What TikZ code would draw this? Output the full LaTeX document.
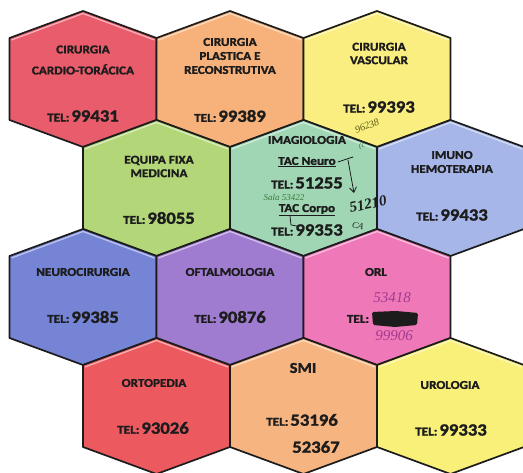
\documentclass[tikz,border=0pt]{standalone}
\usepackage{fontspec}
\setmainfont{Carlito}[FakeStretch=1.1, BoldFeatures={FakeBold=1.6}]
\newfontfamily\hand{Liberation Serif}
\usetikzlibrary{arrows.meta}
\definecolor{cCardio}{HTML}{E85C6B}
\definecolor{cPlast}{HTML}{F6B27A}
\definecolor{cVasc}{HTML}{FAEE80}
\definecolor{cEquipa}{HTML}{B2D678}
\definecolor{cImag}{HTML}{A0D6B4}
\definecolor{cImuno}{HTML}{A6B6E8}
\definecolor{cNeuro}{HTML}{7684D6}
\definecolor{cOftal}{HTML}{A07CD0}
\definecolor{cORL}{HTML}{EE78B8}
\definecolor{cOrto}{HTML}{EC5A60}
\definecolor{cSMI}{HTML}{F6B480}
\definecolor{cUro}{HTML}{F8F078}
\definecolor{inkA}{HTML}{1C1C1C}
\definecolor{inkPurple}{HTML}{A33A8E}
\definecolor{inkGreen}{HTML}{3C7A3A}
\definecolor{inkOlive}{HTML}{5A5A12}
\tikzset{
  hexbord/.style={draw=inkA, line width=1.7pt, line join=round},
  hexshine/.style={draw=white, opacity=0.55, line width=1.2pt, line join=round},
  ttl/.style={font=\bfseries\fontsize{12}{#1}\selectfont, align=center, text=inkA, inner sep=0pt},
  ttl/.default=14,
  telbox/.style={font=\bfseries, text=inkA, inner sep=0pt, anchor=center},
  hw/.style={font=\hand\itshape\fontsize{#1}{#1}\selectfont, inner sep=0pt},
  hw/.default=14,
  hwline/.style={draw=inkA, line width=0.8pt, line cap=round, line join=round},
}
\newcommand\hexcell[3]{%
  \filldraw[hexbord, fill=#3, shift={(#1,#2)}] (-73.5,-41) -- (0,-68) -- (73.5,-41) -- (73.5,41) -- (0,68) -- (-73.5,41) -- cycle;
  \draw[hexshine, shift={(#1,#2)}] (-71.5,-39) -- (0,-65.5) -- (71.5,-39);}
\newcommand\telsmall{\fontsize{12}{12}\selectfont TEL:}
\newcommand\telno[1]{\telsmall\,{\fontsize{17}{17}\selectfont #1}}
\begin{document}
\begin{tikzpicture}[x=1pt,y=-1pt]
\useasboundingbox (0,0) rectangle (523,473);
\fill[white] (0,0) rectangle (523,473);
\begin{scope}
\clip (0,0) rectangle (523,473);
\hexcell{83}{79}{cCardio}
\hexcell{230}{79}{cPlast}
\hexcell{377}{79}{cVasc}
\hexcell{156.5}{188}{cEquipa}
\hexcell{303.5}{188}{cImag}
\hexcell{450.5}{188}{cImuno}
\hexcell{83}{297}{cNeuro}
\hexcell{230}{297}{cOftal}
\hexcell{377}{297}{cORL}
\hexcell{156.5}{406}{cOrto}
\hexcell{303.5}{406}{cSMI}
\hexcell{450.5}{406}{cUro}
\end{scope}
% row 1
\node[ttl=21] (cardioT) at (83,60) {CIRURGIA\\CARDIO-TORÁCICA};
\node[telbox] (cardioN) at (83,116) {\telno{99431}};
\node[ttl=14] (plastT) at (230,56) {CIRURGIA\\PLASTICA E\\RECONSTRUTIVA};
\node[telbox] (plastN) at (230,116) {\telno{99389}};
\node[ttl=13.5] (vascT) at (379,53.5) {CIRURGIA\\VASCULAR};
\node[telbox] (vascN) at (379,107) {\telno{99393}};
% row 2
\node[ttl=13.5] (equipaT) at (159,166.5) {EQUIPA FIXA\\MEDICINA};
\node[telbox] (equipaN) at (159,218) {\telno{98055}};
\node[ttl] (imagT) at (307,140) {IMAGIOLOGIA};
\node[ttl] (tacN) at (307,162) {\underline{TAC Neuro}};
\node[telbox] (imagN1) at (307,183) {\telno{51255}};
\node[ttl] (tacC) at (307,210) {\underline{TAC Corpo}};
\node[telbox] (imagN2) at (307,230) {\telno{99353}};
\node[ttl=14] (imunoT) at (452,162) {IMUNO\\HEMOTERAPIA};
\node[telbox] (imunoN) at (452,215) {\telno{99433}};
% row 3
\node[ttl] (neuroT) at (83,272) {NEUROCIRURGIA};
\node[telbox] (neuroN) at (83,317) {\telno{99385}};
\node[ttl] (oftalT) at (230,272) {OFTALMOLOGIA};
\node[telbox] (oftalN) at (230,317) {\telno{90876}};
\node[ttl] (orlT) at (376,272) {ORL};
\node[telbox] (orlN) at (358,319) {\telsmall};
\fill[inkA, rounded corners=1.5pt] (372,312) -- (396,311) -- (418,313) -- (417,325) -- (395,327) -- (373,325) -- cycle;
% row 4
\node[ttl] (ortoT) at (154,383) {ORTOPEDIA};
\node[telbox] (ortoN) at (153,428) {\telno{93026}};
\node[ttl, font=\bfseries\fontsize{15}{15}\selectfont] (smiT) at (303,368) {SMI};
\node[telbox] (smiN1) at (302,420) {\telno{53196}};
\node[telbox, font=\bfseries\fontsize{17}{17}\selectfont] (smiN2) at (316,447) {52367};
\node[ttl] (uroT) at (450,385) {UROLOGIA};
\node[telbox] (uroN) at (451,430) {\telno{99333}};
% handwritten notes
\node[hw=10, text=inkOlive, rotate=22] (hw96) at (367,126) {96238};
\node[hw=8, text=inkGreen, rotate=10] (hwC) at (362,146) {(c};
\node[hw=9, text=inkGreen] (hwSala) at (284,197) {Sala 53422};
\node[hw=14, text=inkA, rotate=12, font=\hand\itshape\bfseries\fontsize{15}{15}\selectfont] (hw512) at (368,204) {51210};
\node[hw=9, text=inkA, rotate=-15] (hwCA) at (358,226) {CA};
\coordinate (hwTop) at (353,157);
\coordinate (hwA) at (348,160);
\coordinate (hwB) at (354,193);
\draw[hwline] ([xshift=2pt]tacN.east) -- (hwTop);
\draw[hwline, -{Straight Barb[length=5pt,width=7pt]}] (hwA) -- (hwB);
\draw[hwline] (290,216) -- (291,225) -- (297,226);
\node[hw=15, text=inkPurple] (hw534) at (392,298) {53418};
\node[hw=15, text=inkPurple] (hw999) at (394,336) {99906};
\end{tikzpicture}
\end{document}
